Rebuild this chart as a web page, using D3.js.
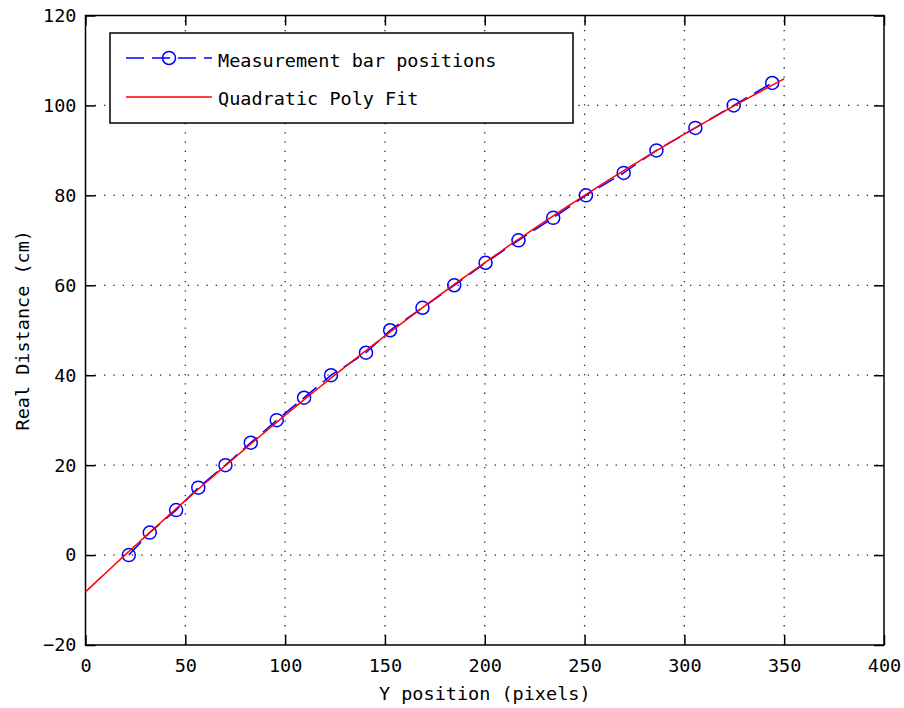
<!DOCTYPE html>
<html>
<head>
<meta charset="utf-8">
<script src="https://cdn.jsdelivr.net/npm/d3@7"></script>
<style>
  body { margin: 0; background: #fff; }
  text { font-family: "DejaVu Sans Mono", "Liberation Mono", monospace; font-size: 18.5px; fill: #000; }
</style>
</head>
<body>
<div id="chart"></div>
<script>
// measured bar positions (pixels) vs real distance (cm)
const yPixels = [21.7, 32.2, 45.4, 56.5, 70.1, 82.8, 95.8, 109.5, 123, 140.5, 152.6,
  168.8, 184.7, 200.4, 216.9, 234.3, 250.7, 269.6, 286, 305.5, 324.7, 344];
const realDist = [0, 5, 10, 15, 20, 25, 30, 35, 40, 45, 50,
  55, 60, 65, 70, 75, 80, 85, 90, 95, 100, 105];
const xTicks = [0, 50, 100, 150, 200, 250, 300, 350, 400];
const yTicks = [-20, 0, 20, 40, 60, 80, 100, 120];
const fitRange = [0, 350];
const legendLabels = ["Measurement bar positions", "Quadratic Poly Fit"];

const width = 904, height = 708;
const margin = { top: 15.5, right: 20, bottom: 63, left: 85.5 };

const svg = d3.select("#chart").append("svg")
  .attr("width", width).attr("height", height);

const x = d3.scaleLinear().domain([0, 400]).range([margin.left, width - margin.right]);
const y = d3.scaleLinear().domain([-20, 120]).range([height - margin.bottom, margin.top]);

// quadratic least squares fit (like polyfit(x, y, 2))
function polyfit2(xs, ys) {
  const s = [0, 0, 0, 0, 0], t = [0, 0, 0];
  xs.forEach((xv, i) => {
    for (let k = 0; k < 5; k++) s[k] += Math.pow(xv, k);
    for (let k = 0; k < 3; k++) t[k] += ys[i] * Math.pow(xv, k);
  });
  const A = [[s[0], s[1], s[2], t[0]], [s[1], s[2], s[3], t[1]], [s[2], s[3], s[4], t[2]]];
  for (let i = 0; i < 3; i++) {
    for (let j = i + 1; j < 3; j++) {
      const f = A[j][i] / A[i][i];
      for (let k = i; k < 4; k++) A[j][k] -= f * A[i][k];
    }
  }
  const c = [0, 0, 0];
  for (let i = 2; i >= 0; i--) {
    let v = A[i][3];
    for (let k = i + 1; k < 3; k++) v -= A[i][k] * c[k];
    c[i] = v / A[i][i];
  }
  return c;
}
const coef = polyfit2(yPixels, realDist);
const fitX = d3.range(fitRange[0], fitRange[1] + 0.01, 2);
const fitPts = fitX.map(v => [v, coef[0] + coef[1] * v + coef[2] * v * v]);

const x0 = x.range()[0], x1 = x.range()[1];
const y0 = y.range()[0], y1 = y.range()[1];

// grid
const grid = svg.append("g")
  .attr("stroke", "#222").attr("stroke-width", 1.3).attr("stroke-dasharray", "1.3,8");
grid.selectAll(".gx").data(xTicks.slice(1, -1)).join("line")
  .attr("x1", d => x(d)).attr("x2", d => x(d)).attr("y1", y0).attr("y2", y1);
grid.selectAll(".gy").data(yTicks.slice(1, -1)).join("line")
  .attr("y1", d => y(d)).attr("y2", d => y(d)).attr("x1", x0).attr("x2", x1);

// axes with inward ticks on all sides
const tl = 10;
svg.append("g").attr("transform", `translate(0,${y0})`)
  .call(d3.axisBottom(x).tickValues(xTicks).tickSize(-tl).tickPadding(14))
  .call(g => g.select(".domain").remove());
svg.append("g").attr("transform", `translate(0,${y1})`)
  .call(d3.axisTop(x).tickValues(xTicks).tickSize(-tl).tickFormat(""))
  .call(g => g.select(".domain").remove());
svg.append("g").attr("transform", `translate(${x0},0)`)
  .call(d3.axisLeft(y).tickValues(yTicks).tickSize(-tl).tickPadding(9))
  .call(g => g.select(".domain").remove());
svg.append("g").attr("transform", `translate(${x1},0)`)
  .call(d3.axisRight(y).tickValues(yTicks).tickSize(-tl).tickFormat(""))
  .call(g => g.select(".domain").remove());
svg.selectAll(".tick line").attr("stroke", "#000").attr("stroke-width", 1.5);
svg.selectAll(".tick text").style("font-size", "18.5px").style("font-family", "DejaVu Sans Mono");

svg.append("rect")
  .attr("x", x0).attr("y", y1).attr("width", x1 - x0).attr("height", y0 - y1)
  .attr("fill", "none").attr("stroke", "#000").attr("stroke-width", 1.5);

// data: dashed blue line + circles
const line = d3.line().x(d => x(d[0])).y(d => y(d[1]));
const pts = yPixels.map((v, i) => [v, realDist[i]]);
svg.append("path").datum(pts)
  .attr("fill", "none").attr("stroke", "#0000ff").attr("stroke-width", 1.5)
  .attr("stroke-dasharray", "18,8").attr("d", line);
svg.selectAll(".pt").data(pts).join("circle")
  .attr("cx", d => x(d[0])).attr("cy", d => y(d[1])).attr("r", 6.5)
  .attr("fill", "none").attr("stroke", "#0000ff").attr("stroke-width", 1.5);

// fit line
svg.append("path").datum(fitPts)
  .attr("fill", "none").attr("stroke", "#ff0000").attr("stroke-width", 1.5).attr("d", line);

// axis titles
svg.append("text").attr("x", (x0 + x1) / 2).attr("y", 700)
  .attr("text-anchor", "middle").text("Y position (pixels)");
svg.append("text").attr("transform", `translate(29,${(y0 + y1) / 2}) rotate(-90)`)
  .attr("text-anchor", "middle").text("Real Distance (cm)");

// legend
const lg = svg.append("g");
lg.append("rect").attr("x", 110).attr("y", 33).attr("width", 463).attr("height", 90)
  .attr("fill", "#fff").attr("stroke", "#000").attr("stroke-width", 1.5);
lg.append("line").attr("x1", 126).attr("x2", 212).attr("y1", 58).attr("y2", 58)
  .attr("stroke", "#0000ff").attr("stroke-width", 1.5).attr("stroke-dasharray", "18,8");
lg.append("circle").attr("cx", 169).attr("cy", 58).attr("r", 6.5)
  .attr("fill", "none").attr("stroke", "#0000ff").attr("stroke-width", 1.5);
lg.append("line").attr("x1", 126).attr("x2", 212).attr("y1", 97).attr("y2", 97)
  .attr("stroke", "#ff0000").attr("stroke-width", 1.5);
lg.selectAll(".lt").data(legendLabels).join("text")
  .attr("x", 218).attr("y", (d, i) => 67 + i * 38).text(d => d);
</script>
</body>
</html>
